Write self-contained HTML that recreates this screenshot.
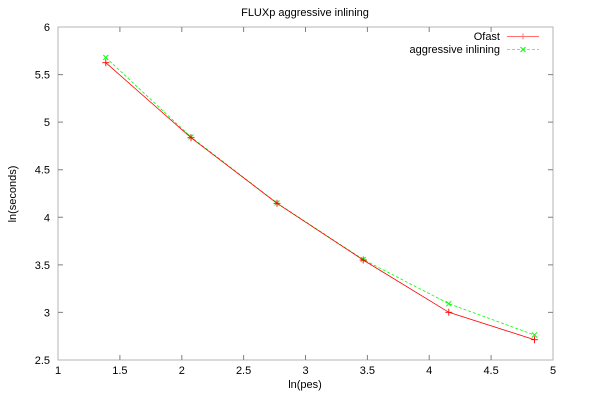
<!DOCTYPE html>
<html><head><meta charset="utf-8"><style>
html,body{margin:0;padding:0;background:#fff;}
svg{display:block;}
text{font-family:"Liberation Sans",Arial,sans-serif;font-size:11px;fill:#000;}
</style></head><body>
<svg width="600" height="401" viewBox="0 0 600 401" xmlns="http://www.w3.org/2000/svg">
<rect width="600" height="401" fill="#fff"/>
<text x="305" y="16" text-anchor="middle">FLUXp aggressive inlining</text>
<rect x="58" y="27" width="495" height="333" fill="none" stroke="#b4b4b4" stroke-width="1"/>
<g stroke="#808080" stroke-width="1">
<path d="M119.9 360v-5M181.8 360v-5M243.6 360v-5M305.5 360v-5M367.4 360v-5M429.2 360v-5M491.1 360v-5
M119.9 27v5M181.8 27v5M243.6 27v5M305.5 27v5M367.4 27v5M429.2 27v5M491.1 27v5
M58 74.6h5M58 122.1h5M58 169.7h5M58 217.3h5M58 264.9h5M58 312.4h5
M553 74.6h-5M553 122.1h-5M553 169.7h-5M553 217.3h-5M553 264.9h-5M553 312.4h-5"/>
</g>
<g text-anchor="end">
<text x="50" y="31">6</text>
<text x="50" y="78.6">5.5</text>
<text x="50" y="126.1">5</text>
<text x="50" y="173.7">4.5</text>
<text x="50" y="221.3">4</text>
<text x="50" y="268.9">3.5</text>
<text x="50" y="316.4">3</text>
<text x="50" y="364">2.5</text>
</g>
<g text-anchor="middle">
<text x="58" y="374">1</text>
<text x="119.9" y="374">1.5</text>
<text x="181.8" y="374">2</text>
<text x="243.6" y="374">2.5</text>
<text x="305.5" y="374">3</text>
<text x="367.4" y="374">3.5</text>
<text x="429.2" y="374">4</text>
<text x="491.1" y="374">4.5</text>
<text x="553" y="374">5</text>
</g>
<text x="305" y="388" text-anchor="middle">ln(pes)</text>
<text x="16" y="194" text-anchor="middle" transform="rotate(-90 16 194)">ln(seconds)</text>
<text x="500" y="40" text-anchor="end">Ofast</text>
<text x="500" y="53" text-anchor="end">aggressive inlining</text>
<path d="M507 36.5h32M523 33.5v6" stroke="#ff7070" stroke-width="1" fill="none"/>
<path d="M507 49.5h32" stroke="#60ff60" stroke-width="1" stroke-dasharray="3,2" fill="none"/>
<path d="M520.5 47l5 5M520.5 52l5-5" stroke="#00ff00" stroke-width="1" fill="none"/>
<polyline points="105.8,57.5 191,137 277,203 363.2,259.5 448.8,303.7 534.5,335" fill="none" stroke="#00ff00" stroke-width="0.8" stroke-dasharray="3,2"/>
<g stroke="#00ff00" stroke-width="0.9" fill="none">
<path d="M103.3 55l5 5M103.3 60l5-5"/>
<path d="M188.5 134.5l5 5M188.5 139.5l5-5"/>
<path d="M274.5 200.5l5 5M274.5 205.5l5-5"/>
<path d="M360.7 257l5 5M360.7 262l5-5"/>
<path d="M446.3 301.2l5 5M446.3 306.2l5-5"/>
<path d="M532 332.5l5 5M532 337.5l5-5"/>
</g>
<polyline points="105.8,62.7 191,137.7 277,203.3 363.2,260 448.8,312.3 534.5,339.7" fill="none" stroke="#ff0000" stroke-width="0.8"/>
<g stroke="#ff0000" stroke-width="0.9" fill="none">
<path d="M102.3 62.7h7M105.8 59.2v7"/>
<path d="M187.5 137.7h7M191 134.2v7"/>
<path d="M273.5 203.3h7M277 199.8v7"/>
<path d="M359.7 260h7M363.2 256.5v7"/>
<path d="M445.3 312.3h7M448.8 308.8v7"/>
<path d="M531 339.7h7M534.5 336.2v7"/>
</g>
</svg>
</body></html>
